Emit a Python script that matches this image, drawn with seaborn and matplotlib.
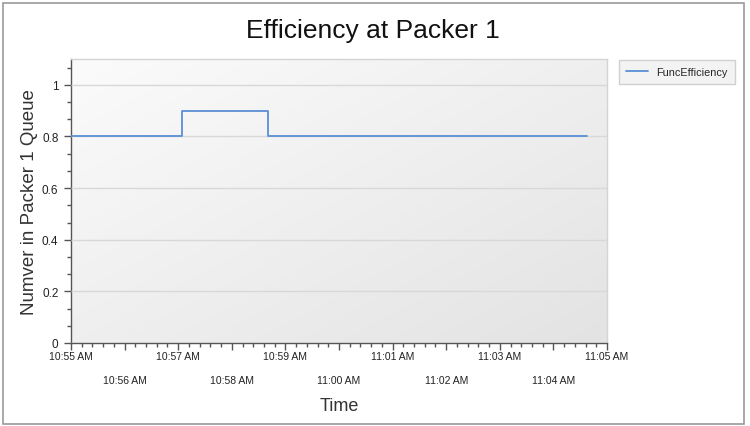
import numpy as np
import pandas as pd
import matplotlib
matplotlib.use("Agg")
import matplotlib.pyplot as plt
import matplotlib.dates as mdates
from matplotlib.colors import LinearSegmentedColormap
from matplotlib.ticker import FuncFormatter, MultipleLocator
from matplotlib.patches import Rectangle
import seaborn as sns

# ── Data ──────────────────────────────────────────────────────────────────────
times = ["10:55:00", "10:57:04", "10:58:40", "11:04:38"]
efficiency = [0.8, 0.9, 0.8, 0.8]
series_name = "FuncEfficiency"

x_start, x_end = "10:55:00", "11:05:00"
y_max = 1.1

day = "2020-01-01 "
df = pd.DataFrame({
    "Time": pd.to_datetime([day + t for t in times]),
    "value": efficiency,
    "series": series_name,
})

# ── Style ─────────────────────────────────────────────────────────────────────
sns.set_style("white")
plt.rcParams["font.family"] = ["Liberation Sans", "DejaVu Sans"]

fig = plt.figure(figsize=(7.5, 4.27), dpi=100)
fig.patch.set_facecolor("white")
ax = fig.add_axes([71 / 750, 83 / 427, 536 / 750, 284 / 427])

# gradient plot background
gx, gy = np.meshgrid(np.linspace(0, 1, 200), np.linspace(0, 1, 200))
grad = (gx + gy) / 2
cmap_bg = LinearSegmentedColormap.from_list("bg", ["#fbfbfb", "#e3e3e3"])
ax.imshow(grad, extent=[0, 1, 0, 1], transform=ax.transAxes, cmap=cmap_bg,
          aspect="auto", origin="upper", zorder=0, interpolation="bilinear")

sns.lineplot(data=df, x="Time", y="value", hue="series", palette=["#5b8fd6"],
             estimator=None, drawstyle="steps-post", linewidth=1.3, ax=ax,
             zorder=3)

ax.set_xlim(pd.Timestamp(day + x_start), pd.Timestamp(day + x_end))
ax.set_ylim(0, y_max)

# ── Axes ──────────────────────────────────────────────────────────────────────
ax.yaxis.set_major_locator(MultipleLocator(0.2))
ax.yaxis.set_minor_locator(MultipleLocator(0.2 / 3))
ax.yaxis.set_major_formatter(FuncFormatter(lambda v, p: f"{v:g}"))
ax.grid(axis="y", which="major", color="#d8d8d8", linewidth=1, zorder=1)
ax.set_axisbelow(False)

ax.xaxis.set_major_locator(mdates.MinuteLocator())
ax.xaxis.set_minor_locator(mdates.SecondLocator(bysecond=[12, 24, 36, 48]))


def stagger(v, pos):
    label = mdates.num2date(v).strftime("%I:%M %p")
    idx = int(round((v - mdates.date2num(pd.Timestamp(day + x_start))) * 1440))
    return label if idx % 2 == 0 else "\n\n" + label


ax.xaxis.set_major_formatter(FuncFormatter(stagger))
ax.tick_params(axis="both", which="both", bottom=True, left=True,
               top=False, right=False)
ax.tick_params(axis="both", which="major", direction="out", length=5,
               width=1, color="#555555", labelsize=7.5, labelcolor="#222222")
ax.tick_params(axis="both", which="minor", direction="out", length=3,
               width=1, color="#555555")
ax.tick_params(axis="x", which="major", pad=1)
ax.tick_params(axis="y", which="major", labelsize=8.5, pad=4)

for side in ["left", "bottom"]:
    ax.spines[side].set_color("#555555")
    ax.spines[side].set_linewidth(1)
for side in ["top", "right"]:
    ax.spines[side].set_color("#d4d4d4")
    ax.spines[side].set_linewidth(1)

ax.set_xlabel("Time", fontsize=13, color="#333333", labelpad=9)
ax.set_ylabel("Numver in Packer 1 Queue", fontsize=13.5, color="#333333",
              labelpad=3)
fig.suptitle("Efficiency at Packer 1", x=0.497, y=0.955, fontsize=19,
             color="#111111")

leg = ax.legend(loc="upper left", bbox_to_anchor=(619 / 750, 1 - 61 / 427),
                bbox_transform=fig.transFigure, frameon=True, fancybox=False,
                fontsize=7.8, handlelength=2.0, borderpad=0.65,
                borderaxespad=0)
leg.get_frame().set_facecolor("#f3f3f3")
leg.get_frame().set_edgecolor("#d0d0d0")
leg.get_frame().set_linewidth(1)
leg.get_frame().set_alpha(1)
leg.set_title(None)

# outer chart border
fig.add_artist(Rectangle((3 / 750, 2 / 427), 741 / 750, 421 / 427,
                         transform=fig.transFigure, fill=False,
                         edgecolor="#9a9a9a", linewidth=1.2))

fig.savefig("out.png", dpi=100, facecolor=fig.get_facecolor())
plt.close(fig)
